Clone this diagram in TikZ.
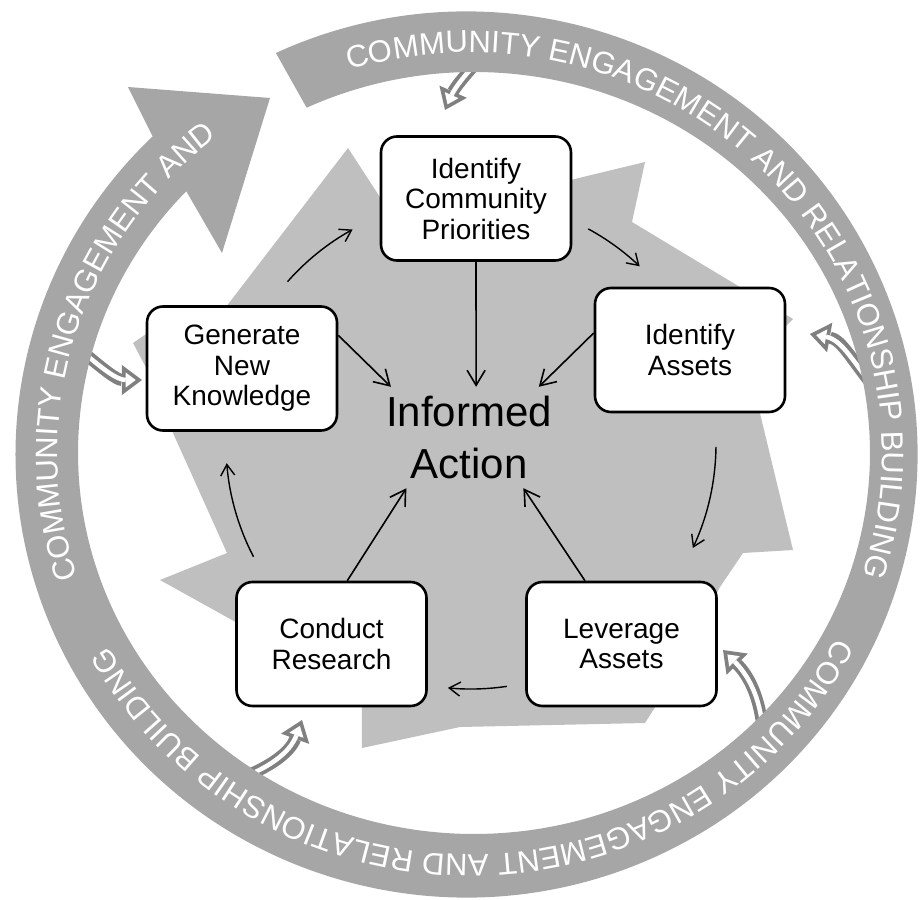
\documentclass[tikz,border=0pt]{standalone}
\usepackage{fontspec}
\setmainfont{Liberation Sans}
\usetikzlibrary{arrows.meta,decorations.text}

\definecolor{ringgrey}{HTML}{A6A6A6}
\definecolor{stargrey}{HTML}{BFBFBF}
\definecolor{hollowgrey}{HTML}{808080}

\newcommand{\ringfont}{\fontsize{31}{31}\selectfont}

\tikzset{
  stage/.style={draw, line width=2.6pt, rounded corners=16pt, fill=white,
    minimum width=190pt, minimum height=124pt, inner sep=0pt, align=center,
    font=\fontsize{28}{30.5}\selectfont},
  hub/.style={text width=170pt, minimum height=101pt, inner sep=0pt, align=center,
    font=\fontsize{42}{52}\selectfont},
  flow/.style={line width=1.6pt, -{Straight Barb[length=15pt,width=18pt]}},
  loopflow/.style={line width=1.4pt, -{Straight Barb[length=11pt,width=14pt]}},
  hollowout/.style={draw=hollowgrey, line width=12pt,
    -{Triangle[length=20pt,width=30pt,line width=0pt]}},
  hollowin/.style={draw=white, line width=4.5pt, shorten >=6.25pt, shorten <=2pt,
    -{Triangle[length=10pt,width=15pt,line width=0pt]}},
  ringtext/.style={decorate, decoration={text along path, text color=white,
    text={|\ringfont|#1}}}
}

\begin{document}
\begin{tikzpicture}[x=1pt, y=1pt]
    \useasboundingbox (-466,-444) rectangle (454,455);
    \coordinate (oc) at (0.5,0.5);
    \coordinate (ic) at (8,2);
    \coordinate (tc) at (4,1.5);
    % grey star of arrows behind the stages
    \fill[stargrey] (-118,307) -- (-66,227) -- (84,270) -- (179,293) -- (166,233)
      -- (327,136) -- (318,127) -- (292,50) -- (327,-95) -- (277,-98) -- (254,-132)
      -- (200,-235) -- (179,-268) -- (-6,-272) -- (-104,-293) -- (-104,-245)
      -- (-216,-175) -- (-306,-125) -- (-239,-98) -- (-293,22) -- (-301,40)
      -- (-316,80) -- (-333,112) -- (-314,125) -- (-250,135) -- cycle;
    % small hollow arrows from the ring
    \draw[hollowout] (14,396) to[out=227,in=66] (-21,345);
    \draw[hollowin] (14,396) to[out=227,in=66] (-21,345);
    \draw[hollowout] (408,68) to[out=130,in=-10] (344,121);
    \draw[hollowin] (408,68) to[out=130,in=-10] (344,121);
    \draw[hollowout] (297,-277) to[out=95,in=-45] (257,-195);
    \draw[hollowin] (297,-277) to[out=95,in=-45] (257,-195);
    \draw[hollowout] (-230,-325) to[out=20,in=250] (-164,-265);
    \draw[hollowin] (-230,-325) to[out=20,in=250] (-164,-265);
    \draw[hollowout] (-382,102) to[out=-40,in=180] (-324,75);
    \draw[hollowin] (-382,102) to[out=-40,in=180] (-324,75);
    % outer ring arrow
    \fill[ringgrey] ([shift={(115:451 and 443)}]oc)
      arc[start angle=115, end angle=-225.9, x radius=451, y radius=443]
      -- (-338,368) -- (-196,357) -- (-244,202)
      -- ([shift={(-223.4:396 and 381)}]ic)
      arc[start angle=-223.4, end angle=115, x radius=396, y radius=381] -- cycle;
    \path[ringtext={COMMUNITY ENGAGEMENT AND RELATIONSHIP BUILDING}]
      ([shift={(107:412.5 and 401)}]tc)
      arc[start angle=107, end angle=-40, x radius=412.5, y radius=401];
    \path[ringtext={COMMUNITY ENGAGEMENT AND RELATIONSHIP BUILDING}]
      ([shift={(-27.3:412.5 and 401)}]tc)
      arc[start angle=-27.3, end angle=-175, x radius=412.5, y radius=401];
    \path[ringtext={COMMUNITY ENGAGEMENT AND}]
      ([shift={(-162:412.5 and 401)}]tc)
      arc[start angle=-162, end angle=-240, x radius=412.5, y radius=401];
    % stages
    \node (prio) at (10,256.5) [stage]{Identify\\Community\\Priorities};
    \node (ida) at (224,105) [stage]{Identify\\Assets};
    \node (lev) at (155.5,-189) [stage]{Leverage\\Assets};
    \node (cr) at (-134.5,-189) [stage]{Conduct\\Research};
    \node (gnk) at (-224,86.5) [stage]{Generate\\New\\Knowledge};
    \node (act) at (3,17.5) [hub]{Informed\\Action};
    \coordinate (mid) at (5,11);
    % cycle
    \draw[loopflow] ([shift={(61.4:245)}]mid) arc[start angle=61.4, end angle=46.5, radius=245];
    \draw[loopflow] ([shift={(-0.7:245)}]mid) arc[start angle=-0.7, end angle=-25.1, radius=245];
    \draw[loopflow] ([shift={(-81.6:245)}]mid) arc[start angle=-81.6, end angle=-95.4, radius=245];
    \draw[loopflow] ([shift={(207.4:245)}]mid) arc[start angle=207.4, end angle=184.5, radius=245];
    \draw[loopflow] ([shift={(138.5:245)}]mid) arc[start angle=138.5, end angle=118.9, radius=245];
    % into informed action
    \draw[flow] (prio.south) -- (act.82);
    \draw[flow] (ida.170) -- (act.36.6);
    \draw[flow] (gnk.19) -- (act.147.1);
    \draw[flow] (cr.76) -- (act.219.6);
    \draw[flow] (lev.120) -- (act.317.5);
\end{tikzpicture}
\end{document}
